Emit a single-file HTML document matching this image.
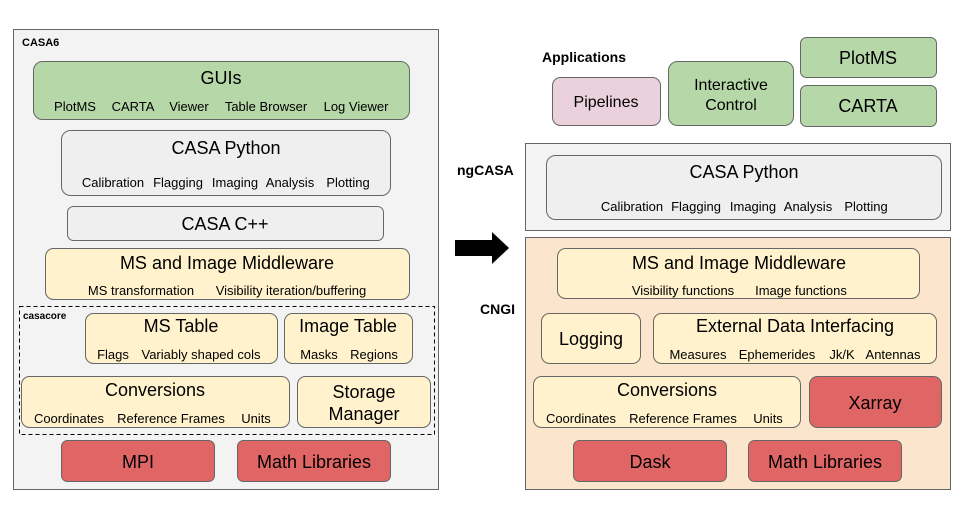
<!DOCTYPE html>
<html><head><meta charset="utf-8"><style>
body{margin:0;background:#fff;}
svg{display:block;font-family:"Liberation Sans",Arial,sans-serif;}
text{white-space:pre}
.t{font-size:18px;text-anchor:middle;fill:#000}
.s{font-size:13px;text-anchor:middle;fill:#000}
.b{font-size:12px;font-weight:bold;fill:#000}
</style></head><body>
<svg width="960" height="517" viewBox="0 0 960 517" xml:space="preserve">
<rect x="13.5" y="29.5" width="425" height="460" fill="#f3f3f3" stroke="#666"/>
<text x="22" y="46" class="b" style="font-size:11px">CASA6</text>
<rect x="33.5" y="61.5" width="376" height="58" rx="9" fill="#b6d7a8" stroke="#666"/>
<text x="221" y="84" class="t">GUIs</text>
<text x="75" y="111" class="s">PlotMS</text><text x="133" y="111" class="s">CARTA</text><text x="189" y="111" class="s">Viewer</text><text x="266" y="111" class="s">Table Browser</text><text x="356" y="111" class="s">Log Viewer</text>
<rect x="61.5" y="130.5" width="329" height="65" rx="9" fill="#efefef" stroke="#666"/>
<text x="226" y="154" class="t">CASA Python</text>
<text x="113" y="187" class="s">Calibration</text><text x="178" y="187" class="s">Flagging</text><text x="235" y="187" class="s">Imaging</text><text x="290" y="187" class="s">Analysis</text><text x="348" y="187" class="s">Plotting</text>
<rect x="67.5" y="206.5" width="316" height="34" rx="6" fill="#efefef" stroke="#666"/>
<text x="225" y="230" class="t">CASA C++</text>
<rect x="45.5" y="248.5" width="364" height="51" rx="8" fill="#fff2cc" stroke="#666"/>
<text x="227" y="269" class="t">MS and Image Middleware</text>
<text x="141" y="295" class="s">MS transformation</text><text x="291" y="295" class="s">Visibility iteration/buffering</text>
<rect x="19.5" y="306.5" width="415" height="128" fill="none" stroke="#000" stroke-dasharray="4,3"/>
<text x="23" y="319" class="b" style="font-size:10px">casacore</text>
<rect x="85.5" y="313.5" width="192" height="50" rx="8" fill="#fff2cc" stroke="#666"/>
<text x="181" y="332" class="t">MS Table</text>
<text x="113" y="359" class="s">Flags</text><text x="201" y="359" class="s">Variably shaped cols</text>
<rect x="284.5" y="313.5" width="128" height="50" rx="8" fill="#fff2cc" stroke="#666"/>
<text x="348" y="332" class="t">Image Table</text>
<text x="319" y="359" class="s">Masks</text><text x="374" y="359" class="s">Regions</text>
<rect x="21.5" y="376.5" width="268" height="51" rx="8" fill="#fff2cc" stroke="#666"/>
<text x="155" y="396" class="t">Conversions</text>
<text x="69" y="423" class="s">Coordinates</text><text x="171" y="423" class="s">Reference Frames</text><text x="256" y="423" class="s">Units</text>
<rect x="297.5" y="376.5" width="133" height="51" rx="8" fill="#fff2cc" stroke="#666"/>
<text x="364" y="398" class="t">Storage</text><text x="364" y="420" class="t">Manager</text>
<rect x="61.5" y="440.5" width="153" height="41" rx="6" fill="#e06666" stroke="#666"/>
<text x="138" y="468" class="t">MPI</text>
<rect x="237.5" y="440.5" width="153" height="41" rx="6" fill="#e06666" stroke="#666"/>
<text x="314" y="468" class="t">Math Libraries</text>
<polygon points="455,240 492,240 492,232 509,248 492,264 492,256 455,256" fill="#000"/>
<text x="542" y="62" class="b" style="font-size:14px">Applications</text>
<rect x="552.5" y="77.5" width="108" height="48" rx="8" fill="#ead1dc" stroke="#666"/>
<text x="606" y="107" class="t" style="font-size:16px">Pipelines</text>
<rect x="668.5" y="61.5" width="125" height="64" rx="9" fill="#b6d7a8" stroke="#666"/>
<text x="731" y="90" class="t" style="font-size:16px">Interactive</text><text x="731" y="110" class="t" style="font-size:16px">Control</text>
<rect x="800.5" y="37.5" width="136" height="40" rx="6" fill="#b6d7a8" stroke="#666"/>
<text x="868" y="64" class="t">PlotMS</text>
<rect x="800.5" y="85.5" width="136" height="41" rx="6" fill="#b6d7a8" stroke="#666"/>
<text x="868" y="112" class="t">CARTA</text>
<text x="457" y="175" class="b" style="font-size:14px">ngCASA</text>
<rect x="525.5" y="143.5" width="425" height="87" fill="#f3f3f3" stroke="#666"/>
<rect x="546.5" y="155.5" width="395" height="64" rx="9" fill="#efefef" stroke="#666"/>
<text x="744" y="178" class="t">CASA Python</text>
<text x="632" y="211" class="s">Calibration</text><text x="696" y="211" class="s">Flagging</text><text x="753" y="211" class="s">Imaging</text><text x="808" y="211" class="s">Analysis</text><text x="866" y="211" class="s">Plotting</text>
<text x="480" y="314" class="b" style="font-size:14px">CNGI</text>
<rect x="525.5" y="237.5" width="425" height="252" fill="#fce5cd" stroke="#666"/>
<rect x="557.5" y="248.5" width="362" height="50" rx="8" fill="#fff2cc" stroke="#666"/>
<text x="739" y="269" class="t">MS and Image Middleware</text>
<text x="683" y="295" class="s">Visibility functions</text><text x="801" y="295" class="s">Image functions</text>
<rect x="541.5" y="313.5" width="99" height="50" rx="8" fill="#fff2cc" stroke="#666"/>
<text x="591" y="345" class="t">Logging</text>
<rect x="653.5" y="313.5" width="283" height="50" rx="8" fill="#fff2cc" stroke="#666"/>
<text x="795" y="332" class="t">External Data Interfacing</text>
<text x="698" y="359" class="s">Measures</text><text x="777" y="359" class="s">Ephemerides</text><text x="842" y="359" class="s">Jk/K</text><text x="893" y="359" class="s">Antennas</text>
<rect x="533.5" y="376.5" width="267" height="51" rx="8" fill="#fff2cc" stroke="#666"/>
<text x="667" y="396" class="t">Conversions</text>
<text x="581" y="423" class="s">Coordinates</text><text x="683" y="423" class="s">Reference Frames</text><text x="768" y="423" class="s">Units</text>
<rect x="809.5" y="376.5" width="132" height="51" rx="8" fill="#e06666" stroke="#666"/>
<text x="875" y="409" class="t">Xarray</text>
<rect x="573.5" y="440.5" width="153" height="41" rx="6" fill="#e06666" stroke="#666"/>
<text x="650" y="468" class="t">Dask</text>
<rect x="748.5" y="440.5" width="153" height="41" rx="6" fill="#e06666" stroke="#666"/>
<text x="825" y="468" class="t">Math Libraries</text>
</svg>
</body></html>
